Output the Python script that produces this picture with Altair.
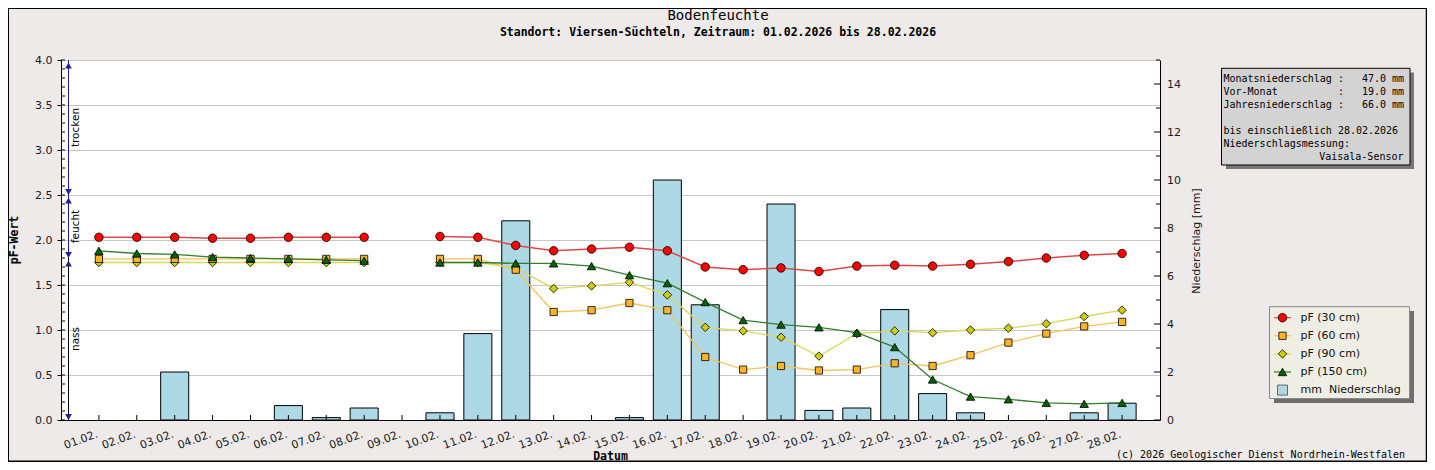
import altair as alt
import pandas as pd

# ---------------- data ----------------
days = list(range(1, 29))
date_labels = ["01.02.", "02.02.", "03.02.", "04.02.", "05.02.", "06.02.", "07.02.",
               "08.02.", "09.02.", "10.02.", "11.02.", "12.02.", "13.02.", "14.02.",
               "15.02.", "16.02.", "17.02.", "18.02.", "19.02.", "20.02.", "21.02.",
               "22.02.", "23.02.", "24.02.", "25.02.", "26.02.", "27.02.", "28.02."]

pf_30 = [2.03, 2.03, 2.03, 2.02, 2.02, 2.03, 2.03, 2.03, None,
         2.04, 2.03, 1.94, 1.88, 1.90, 1.92, 1.88, 1.70, 1.67, 1.69,
         1.65, 1.71, 1.72, 1.71, 1.73, 1.76, 1.80, 1.83, 1.85]
pf_60 = [1.79, 1.79, 1.79, 1.79, 1.79, 1.79, 1.79, 1.79, None,
         1.79, 1.79, 1.67, 1.20, 1.22, 1.30, 1.22, 0.70, 0.56, 0.60,
         0.55, 0.56, 0.63, 0.60, 0.72, 0.86, 0.96, 1.04, 1.09]
pf_90 = [1.75, 1.75, 1.75, 1.75, 1.75, 1.75, 1.75, 1.75, None,
         1.75, 1.75, 1.69, 1.46, 1.49, 1.53, 1.39, 1.03, 0.99, 0.92,
         0.71, 0.96, 0.99, 0.97, 1.00, 1.02, 1.07, 1.15, 1.22]
pf_150 = [1.88, 1.85, 1.84, 1.81, 1.80, 1.79, 1.78, 1.77, None,
          1.75, 1.75, 1.74, 1.74, 1.71, 1.61, 1.52, 1.31, 1.11, 1.06,
          1.03, 0.97, 0.81, 0.45, 0.26, 0.23, 0.19, 0.18, 0.19]
rain_mm = [0.0, 0.0, 2.0, 0.0, 0.0, 0.6, 0.1, 0.5, 0.0,
           0.3, 3.6, 8.3, 0.0, 0.0, 0.1, 10.0, 4.8, 0.0, 9.0,
           0.4, 0.5, 4.6, 1.1, 0.3, 0.0, 0.0, 0.3, 0.7]

series_names = ["pF (30 cm)", "pF (60 cm)", "pF (90 cm)", "pF (150 cm)"]
bar_label = "mm\u00a0\u00a0Niederschlag"

zone_names = ["trocken", "feucht", "nass"]
zone_hi = [4.0, 2.5, 1.8]
zone_lo = [2.5, 1.8, 0.0]

pf_tick_values = [0.0, 0.5, 1.0, 1.5, 2.0, 2.5, 3.0, 3.5, 4.0]
pf_minor_values = [round(i * 0.1, 1) for i in range(41)]
mm_tick_values = [0, 2, 4, 6, 8, 10, 12, 14]
mm_minor_values = [1, 3, 5, 7, 9, 11, 13, 15]

title_text = "Bodenfeuchte"
subtitle_text = "Standort: Viersen-Süchteln, Zeitraum: 01.02.2026 bis 28.02.2026"
info_lines_top = [
    "Monatsniederschlag :   47.0 mm",
    "Vor-Monat          :   19.0 mm",
    "Jahresniederschlag :   66.0 mm",
]
info_lines_bottom = [
    "bis einschließlich 28.02.2026",
    "Niederschlagsmessung:",
]
info_sensor = "Vaisala-Sensor"
credit_text = "(c) 2026 Geologischer Dienst Nordrhein-Westfalen"

# ---------------- styles ----------------
W, H = 1099, 360
BG = "#EDEAE9"
ARROW = "#1F1F99"
zone_line_colors = [ARROW, ARROW, "black"]
styles = {
    "pF (30 cm)": dict(line="#E04848", fill="#FF0000", shape="circle", size=72, lw=1.5),
    "pF (60 cm)": dict(line="#F2C45A", fill="#FFB428", shape="square", size=52, lw=1.3),
    "pF (90 cm)": dict(line="#D9D85A", fill="#CCCC10", shape="diamond", size=72, lw=1.3),
    "pF (150 cm)": dict(line="#2F7F2F", fill="#006400", shape="triangle-up", size=72, lw=1.3),
}
draw_order = ["pF (30 cm)", "pF (90 cm)", "pF (60 cm)", "pF (150 cm)"]
LBL = dict(labelFont="DejaVu Sans", labelFontSize=11, labelColor="#1a1a1a")

# ---------------- tables ----------------
rows = []
for name, vals in zip(series_names, [pf_30, pf_60, pf_90, pf_150]):
    seg = 0
    for d, v in zip(days, vals):
        if v is None:
            seg += 1
            continue
        rows.append({"series": name, "day": d, "pf": v, "seg": seg})
pf_df = pd.DataFrame(rows)
rain_df = pd.DataFrame({"day": days, "mm": rain_mm})
zone_df = pd.DataFrame({"zone": zone_names, "hi": zone_hi, "lo": zone_lo})
one = pd.DataFrame({"k": [0]})

label_expr = "[" + ",".join("'%s'" % s for s in date_labels) + "][datum.value - 1]"
x_scale = alt.Scale(domain=[0, 29], nice=False, zero=False)
x_axis = alt.Axis(values=days, labelExpr=label_expr, title="", tickSize=0,
                  domainColor="black", grid=False, labelAngle=340, labelAlign="right",
                  labelBaseline="top", labelPadding=8, labelOffset=-4,
                  labelOverlap=False, labelFlush=False, **LBL)
pf_scale = alt.Scale(domain=[0, 4], nice=False)
pf_axis = alt.Axis(orient="left", values=pf_tick_values, format=".1f", title="",
                   tickSize=4, tickColor="black", domainColor="black", labelPadding=5,
                   grid=True, gridColor="#C8C8C8", **LBL)
mm_scale = alt.Scale(domain=[0, 15], nice=False)
mm_axis = alt.Axis(orient="right", values=mm_tick_values, format="d", title="",
                   tickSize=0, domainColor="black", labelPadding=6.5, grid=False, **LBL)


def X(field):
    return alt.X(field, scale=x_scale, axis=x_axis)


def YP(field):
    return alt.Y(field, scale=pf_scale, axis=pf_axis)


def YM(field):
    return alt.Y(field, scale=mm_scale, axis=mm_axis)


# ---------------- precipitation group ----------------
bars = alt.Chart(rain_df).transform_filter("datum.mm > 0").transform_calculate(
    x0="datum.day - 0.37", x1="datum.day + 0.37"
).mark_bar(fill="#ADD8E6", stroke="black", strokeWidth=1, opacity=1).encode(
    x=X("x0:Q"), x2="x1:Q", y=YM("mm:Q"), y2=alt.datum(0)
)
rt_major = alt.Chart(pd.DataFrame({"mm": mm_tick_values})).mark_rule(color="black").encode(
    y=YM("mm:Q"), x=alt.value(W - 6), x2=alt.value(W))
rt_minor = alt.Chart(pd.DataFrame({"mm": mm_minor_values})).mark_rule(color="black").encode(
    y=YM("mm:Q"), x=alt.value(W - 4), x2=alt.value(W))
rain_group = alt.layer(bars, rt_major, rt_minor)

# ---------------- pF group ----------------
lt_minor = alt.Chart(pd.DataFrame({"pf": pf_minor_values})).mark_rule(color="black").encode(
    y=YP("pf:Q"), x=alt.value(0), x2=alt.value(4))
zone_rule = alt.Chart(zone_df).mark_rule(strokeWidth=1).encode(
    x=alt.value(7.5), y=YP("hi:Q"), y2="lo:Q",
    color=alt.Color("zone:N", scale=alt.Scale(domain=zone_names, range=zone_line_colors), legend=None))
arrow_up = alt.Chart(zone_df).mark_point(shape="triangle-up", filled=True, color=ARROW,
                                         size=45, opacity=1, yOffset=5.5).encode(
    x=alt.value(7.5), y=YP("hi:Q"))
arrow_dn = alt.Chart(zone_df).mark_point(shape="triangle-down", filled=True, color=ARROW,
                                         size=45, opacity=1, yOffset=-3).encode(
    x=alt.value(7.5), y=YP("lo:Q"))
zone_txt = alt.Chart(zone_df).transform_calculate(mid="(datum.hi + datum.lo) / 2").mark_text(
    angle=270, font="DejaVu Sans", fontSize=10.5, align="center", baseline="middle", color="black"
).encode(x=alt.value(14.5), y=YP("mid:Q"), text="zone:N")

line_layers, point_layers = [], []
for name in draw_order:
    st = styles[name]
    d = pf_df[pf_df.series == name]
    line_layers.append(alt.Chart(d).mark_line(color=st["line"], strokeWidth=st["lw"]).encode(
        x=X("day:Q"), y=YP("pf:Q"), detail="seg:N"))
    point_layers.append(alt.Chart(d).mark_point(
        shape=st["shape"], filled=True, fill=st["fill"], stroke="black", strokeWidth=0.8,
        size=st["size"], opacity=1).encode(x=X("day:Q"), y=YP("pf:Q")))

pf_group = alt.layer(lt_minor, zone_rule, arrow_up, arrow_dn, zone_txt, *line_layers, *point_layers)

# ---------------- x ticks (inward) ----------------
x_ticks = alt.Chart(rain_df).mark_rule(color="black").encode(
    x=X("day:Q"), y=alt.value(H - 5), y2=alt.value(H))

# ---------------- decorations ----------------
def rect(x1, x2, y1, y2, **kw):
    return alt.Chart(one).mark_rect(**kw).encode(
        x=alt.value(x1), x2=alt.value(x2), y=alt.value(y1), y2=alt.value(y2))


def hrule(x1, x2, y, **kw):
    return alt.Chart(one).mark_rule(**kw).encode(x=alt.value(x1), x2=alt.value(x2), y=alt.value(y))


def vrule(x, y1, y2, **kw):
    return alt.Chart(one).mark_rule(**kw).encode(x=alt.value(x), y=alt.value(y1), y2=alt.value(y2))


def text(x, y, t, **kw):
    return alt.Chart(one).mark_text(**kw).encode(x=alt.value(x), y=alt.value(y), text=alt.value(t))


def nb(s):
    return s.replace(" ", "\u00a0")


MONO = dict(font="DejaVu Sans Mono", fontSize=10, baseline="middle", color="black")

decor = [
    hrule(-53, 1366, -51.5, color="black", strokeWidth=1),
    vrule(-52.5, -52, 402, color="black", strokeWidth=1),
    vrule(1365.5, -52, 402, color="black", strokeWidth=1.5),
    hrule(-53, 1366, 401.3, color="black", strokeWidth=1.5),
    text(657, -44, title_text, font="DejaVu Sans Mono", fontSize=14, align="center",
         baseline="middle", color="black"),
    text(657, -27, subtitle_text, font="DejaVu Sans Mono", fontSize=11.5, fontWeight="bold",
         align="center", baseline="middle", color="black"),
    # info box
    rect(1165, 1353, 12.5, 109, fill="#777777"),
    rect(1160.5, 1349, 8.3, 105, fill="#D3D3D3", stroke="black", strokeWidth=1),
    text(1162.5, 19.3, [nb(l) for l in info_lines_top], lineHeight=13, align="left", **MONO),
    text(1162.5, 70.7, [nb(l) for l in info_lines_bottom], lineHeight=13.3, align="left", **MONO),
    text(1342.5, 97.3, info_sensor, align="right", **MONO),
    # legend
    rect(1213, 1353, 251, 343, fill="#6E6E6E"),
    rect(1208.5, 1348.5, 246.7, 338.5, fill="#EEEEE4", stroke="#888888", strokeWidth=1),
    text(1239.5, 257.7, series_names + [bar_label], font="DejaVu Sans", fontSize=11,
         lineHeight=18.1, align="left", baseline="middle", color="#111111"),
    # axis titles / credit
    text(549.5, 397, "Datum", font="DejaVu Sans Mono", fontSize=11.5, fontWeight="bold",
         align="center", baseline="middle", color="black"),
    text(-46, 180, "pF-Wert", font="DejaVu Sans Mono", fontSize=11.5, fontWeight="bold",
         angle=270, align="center", baseline="middle", color="black"),
    text(1136, 181, "Niederschlag [mm]", font="DejaVu Sans", fontSize=11, angle=270,
         align="center", baseline="middle", color="#1a1a1a"),
    text(1344, 395, credit_text, align="right", **MONO),
]

for i, name in enumerate(series_names):
    st = styles[name]
    yy = 257.7 + 18.1 * i
    decor.append(hrule(1213, 1230, yy, color=st["line"], strokeWidth=1.2))
    decor.append(alt.Chart(one).mark_point(
        shape=st["shape"], filled=True, fill=st["fill"], stroke="black", strokeWidth=0.8,
        size=st["size"], opacity=1).encode(x=alt.value(1221.5), y=alt.value(yy)))
decor.append(alt.Chart(one).mark_point(
    shape="square", filled=True, fill="#ADD8E6", stroke="#666666", strokeWidth=1,
    size=100, opacity=1).encode(x=alt.value(1221.5), y=alt.value(257.7 + 18.1 * 4)))

chart = alt.layer(rain_group, pf_group, x_ticks, *decor).resolve_scale(
    y="independent"
).properties(
    width=W, height=H,
    padding={"left": 53, "top": 52, "right": 267, "bottom": 42},
    autosize=alt.AutoSizeParams(type="none"),
    background=BG,
).configure_view(fill="white", stroke="transparent")

chart.save("out.html", embed_options={"renderer": "svg", "actions": False})
